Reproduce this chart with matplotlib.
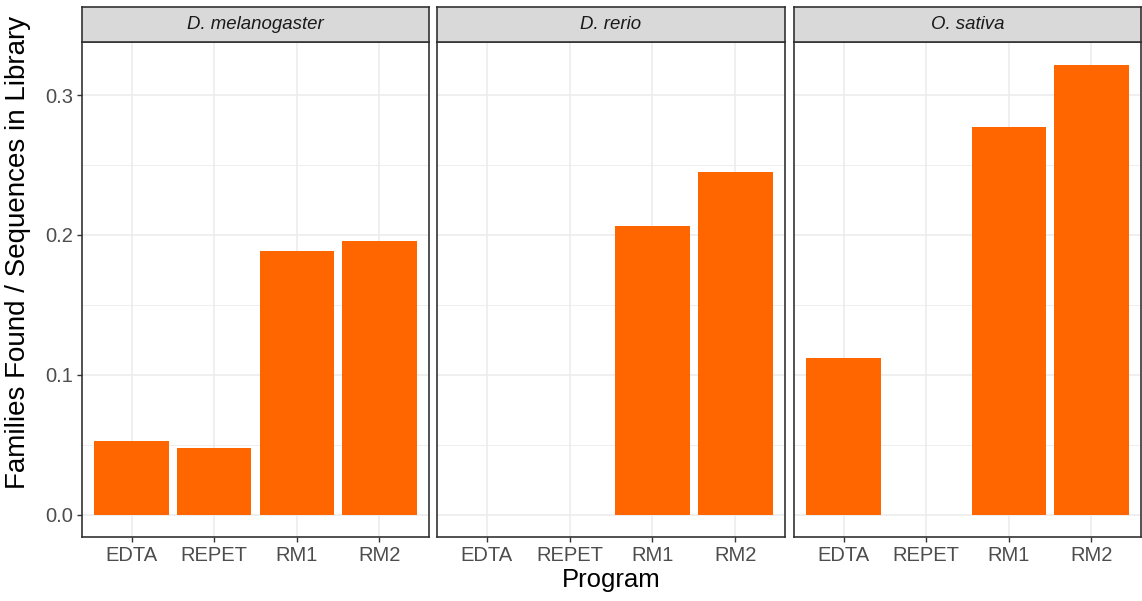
import matplotlib.pyplot as plt
from matplotlib.ticker import MultipleLocator

plt.rcParams['font.family'] = ['Liberation Sans', 'DejaVu Sans']

# Datos: familias encontradas / secuencias en la biblioteca
especies = ['D. melanogaster', 'D. rerio', 'O. sativa']
programas = ['EDTA', 'REPET', 'RM1', 'RM2']
d_melanogaster = [0.0529, 0.0479, 0.1886, 0.1957]
d_rerio = [0.0, 0.0, 0.2064, 0.2450]
o_sativa = [0.1121, 0.0, 0.2770, 0.3220]
valores = [d_melanogaster, d_rerio, o_sativa]

naranja = '#FF6600'
borde = '#333333'
gris_texto = '#4D4D4D'
rejilla = '#EBEBEB'

W, H = 1142, 601
fig = plt.figure(figsize=(W / 100, H / 100), dpi=100)

# Posiciones de los paneles en píxeles (izquierda, derecha)
paneles = [(82, 429), (437, 785), (794, 1141)]
arriba, abajo, tira_arriba = 42, 537, 7

ymax = max(max(v) for v in valores)
pad = ymax * 0.05

for i, (nombre, vals) in enumerate(zip(especies, valores)):
    x0, x1 = paneles[i]
    ax = fig.add_axes([x0 / W, 1 - abajo / H, (x1 - x0) / W, (abajo - arriba) / H])
    pos = list(range(1, len(programas) + 1))
    ax.bar(pos, vals, width=0.9, color=naranja, zorder=3)
    ax.set_xlim(0.4, len(programas) + 0.6)
    ax.set_ylim(-pad, ymax + pad)
    ax.set_xticks(pos)
    ax.set_xticklabels(programas)
    ax.yaxis.set_major_locator(MultipleLocator(0.1))
    ax.yaxis.set_minor_locator(MultipleLocator(0.05))
    ax.grid(True, which='major', color=rejilla, linewidth=1.1, zorder=0)
    ax.grid(True, which='minor', axis='y', color=rejilla, linewidth=0.6, zorder=0)
    ax.tick_params(axis='both', which='major', colors=borde, labelcolor=gris_texto,
                   labelsize=14.5, length=3.5, width=1, pad=3)
    ax.tick_params(axis='y', which='minor', length=0)
    if i == 0:
        ax.yaxis.set_major_formatter(plt.FuncFormatter(lambda v, p: f'{v:.1f}'))
    else:
        ax.tick_params(axis='y', which='both', left=False, labelleft=False)
    for s in ax.spines.values():
        s.set_color(borde)
        s.set_linewidth(1.2)

    # Tira con el nombre de la especie
    st = fig.add_axes([x0 / W, 1 - arriba / H, (x1 - x0) / W, (arriba - tira_arriba) / H])
    st.set_facecolor('#D9D9D9')
    st.set_xticks([])
    st.set_yticks([])
    for s in st.spines.values():
        s.set_color(borde)
        s.set_linewidth(1.2)
    st.text(0.5, 0.5, nombre, style='italic', fontsize=13.4, color='#1A1A1A',
            ha='center', va='center', transform=st.transAxes)

fig.text((82 + 1141) / 2 / W, 1 - 580 / H, 'Program', fontsize=18.5,
         ha='center', va='center')
fig.text(18 / W, 1 - 252 / H, 'Families Found / Sequences in Library',
         fontsize=20, rotation=90, ha='center', va='center')

plt.savefig('out.png', dpi=100)
plt.close()
